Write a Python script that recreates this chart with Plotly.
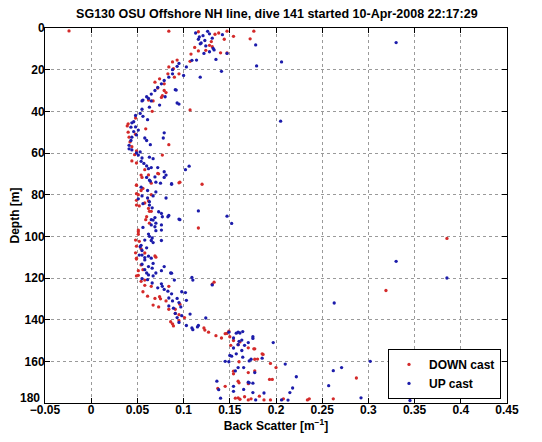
import plotly.graph_objects as go

# DOWN cast (red): back scatter [1/m] and depth [m]
down_x = [-0.024, 0.084, 0.116, 0.134, 0.138, 0.147, 0.176, 0.172, 0.154, 0.144, 0.130, 0.128, 0.131, 0.124,
          0.116, 0.140, 0.147, 0.112, 0.108, 0.107, 0.093, 0.088, 0.084, 0.089, 0.095, 0.083, 0.090, 0.074,
          0.069, 0.079, 0.072, 0.079, 0.081, 0.077, 0.076, 0.062, 0.067, 0.107, 0.066, 0.048, 0.040, 0.039,
          0.059, 0.040, 0.048, 0.041, 0.042, 0.084, 0.044, 0.049, 0.047, 0.077, 0.044, 0.049, 0.058, 0.054,
          0.062, 0.072, 0.073, 0.055, 0.096, 0.095, 0.120, 0.065, 0.049, 0.049, 0.056, 0.054, 0.049, 0.051,
          0.065, 0.049, 0.062, 0.058, 0.052, 0.049, 0.062, 0.063, 0.065, 0.060, 0.059, 0.063, 0.116, 0.051,
          0.051, 0.051, 0.048, 0.385, 0.052, 0.049, 0.054, 0.048, 0.058, 0.069, 0.070, 0.049, 0.049, 0.054,
          0.051, 0.056, 0.051, 0.049, 0.058, 0.054, 0.133, 0.058, 0.065, 0.084, 0.131, 0.319, 0.056, 0.061,
          0.075, 0.074, 0.069, 0.081, 0.096, 0.067, 0.073, 0.084, 0.091, 0.091, 0.095, 0.101, 0.095, 0.086,
          0.088, 0.089, 0.122, 0.123, 0.127, 0.149, 0.145, 0.147, 0.135, 0.141, 0.150, 0.154, 0.161, 0.159,
          0.151, 0.170, 0.177, 0.176, 0.185, 0.186, 0.177, 0.180, 0.160, 0.194, 0.200, 0.177, 0.154, 0.170,
          0.154, 0.193, 0.196, 0.287, 0.159, 0.160, 0.170, 0.145, 0.137, 0.182, 0.166, 0.159, 0.156, 0.173,
          0.161, 0.170, 0.187, 0.194, 0.208, 0.234, 0.236, 0.262]
down_depth = [1.4, 1.5, 1.8, 3.0, 2.4, 1.5, 1.5, 5.2, 4.0, 5.4, 6.5, 8.3, 9.0, 10.7,
              11.0, 11.9, 12.0, 9.3, 12.5, 16.0, 15.4, 16.3, 18.7, 19.5, 22.0, 22.0, 23.6, 24.4,
              26.0, 26.8, 28.8, 30.0, 31.0, 32.5, 33.3, 34.6, 35.0, 39.3, 40.0, 43.2, 46.0, 47.0,
              48.4, 50.0, 51.0, 52.4, 54.7, 56.0, 57.0, 59.0, 60.8, 61.0, 63.8, 64.8, 68.0, 70.6,
              70.5, 69.8, 70.0, 71.7, 74.0, 74.3, 75.0, 74.5, 75.5, 75.3, 77.0, 78.0, 79.5, 80.0,
              80.0, 82.7, 83.0, 84.0, 85.4, 85.0, 86.6, 88.0, 88.0, 90.6, 92.0, 93.7, 96.0, 97.0,
              97.8, 99.0, 101.8, 101.0, 102.4, 104.7, 106.0, 107.9, 108.0, 109.4, 110.0, 110.5, 110.9, 113.7,
              116.5, 116.0, 118.7, 119.0, 121.0, 121.6, 122.0, 123.5, 124.0, 124.0, 123.0, 126.0, 126.6, 128.7,
              130.0, 129.0, 129.8, 131.0, 132.6, 133.0, 133.9, 135.0, 135.0, 137.0, 137.6, 139.0, 140.5, 141.0,
              142.0, 143.0, 144.0, 145.0, 146.0, 145.5, 146.7, 146.6, 147.7, 148.8, 148.2, 150.0, 150.7, 152.0,
              152.3, 153.5, 154.0, 154.0, 156.4, 156.7, 159.0, 158.9, 160.2, 161.0, 163.0, 164.6, 164.7, 165.4,
              166.0, 168.7, 168.7, 168.0, 169.5, 170.3, 170.7, 172.0, 173.0, 176.7, 177.0, 177.5, 177.7, 178.0,
              178.2, 178.5, 178.5, 178.5, 178.0, 178.5, 178.0, 178.0]

# UP cast (blue)
up_x = [0.126, 0.113, 0.128, 0.142, 0.121, 0.117, 0.131, 0.116, 0.123, 0.330, 0.119, 0.118, 0.178, 0.124,
        0.132, 0.133, 0.128, 0.122, 0.147, 0.135, 0.114, 0.109, 0.206, 0.095, 0.093, 0.103, 0.179, 0.088,
        0.141, 0.088, 0.100, 0.084, 0.118, 0.079, 0.076, 0.072, 0.091, 0.092, 0.069, 0.065, 0.060, 0.080,
        0.062, 0.056, 0.055, 0.065, 0.093, 0.095, 0.074, 0.063, 0.055, 0.053, 0.048, 0.056, 0.061, 0.205,
        0.046, 0.044, 0.043, 0.048, 0.051, 0.046, 0.079, 0.049, 0.044, 0.078, 0.058, 0.043, 0.060, 0.064,
        0.041, 0.041, 0.044, 0.053, 0.049, 0.051, 0.063, 0.055, 0.067, 0.054, 0.057, 0.106, 0.060, 0.065,
        0.072, 0.062, 0.102, 0.079, 0.081, 0.069, 0.060, 0.079, 0.063, 0.064, 0.070, 0.075, 0.087, 0.087,
        0.054, 0.061, 0.070, 0.055, 0.067, 0.061, 0.081, 0.051, 0.063, 0.056, 0.063, 0.066, 0.116, 0.073,
        0.076, 0.147, 0.077, 0.084, 0.083, 0.069, 0.095, 0.065, 0.067, 0.096, 0.152, 0.070, 0.076, 0.065,
        0.069, 0.056, 0.076, 0.070, 0.062, 0.063, 0.066, 0.058, 0.065, 0.076, 0.067, 0.054, 0.053, 0.060,
        0.055, 0.055, 0.062, 0.052, 0.058, 0.058, 0.065, 0.330, 0.055, 0.062, 0.067, 0.066, 0.058, 0.079,
        0.076, 0.060, 0.070, 0.087, 0.086, 0.062, 0.067, 0.109, 0.385, 0.055, 0.061, 0.110, 0.090, 0.066,
        0.076, 0.131, 0.072, 0.077, 0.079, 0.083, 0.098, 0.102, 0.087, 0.084, 0.093, 0.103, 0.088, 0.095,
        0.263, 0.084, 0.097, 0.089, 0.091, 0.107, 0.098, 0.093, 0.124, 0.095, 0.103, 0.116, 0.115, 0.109,
        0.110, 0.164, 0.149, 0.159, 0.157, 0.161, 0.175, 0.154, 0.175, 0.163, 0.170, 0.160, 0.197, 0.159,
        0.166, 0.154, 0.163, 0.157, 0.150, 0.152, 0.164, 0.185, 0.173, 0.171, 0.145, 0.149, 0.302, 0.210,
        0.165, 0.159, 0.271, 0.156, 0.262, 0.177, 0.136, 0.222, 0.170, 0.171, 0.175, 0.257, 0.154, 0.218,
        0.165, 0.138, 0.154, 0.215, 0.187, 0.175, 0.140, 0.292, 0.206, 0.178, 0.213, 0.345]
up_depth = [1.6, 2.4, 2.8, 3.2, 3.7, 4.3, 4.9, 5.4, 6.0, 7.0, 7.2, 7.6, 8.1, 8.6,
            9.8, 10.5, 11.4, 12.2, 12.2, 15.1, 15.4, 15.5, 16.3, 17.0, 18.4, 18.7, 18.2, 20.0,
            20.8, 22.0, 22.8, 23.6, 23.6, 25.2, 26.8, 28.5, 29.6, 29.8, 30.0, 31.7, 33.0, 33.0,
            33.8, 34.6, 35.0, 35.0, 36.0, 36.5, 37.0, 38.0, 39.0, 41.0, 42.0, 42.4, 44.0, 44.7,
            45.0, 45.5, 47.6, 47.5, 49.0, 49.7, 50.3, 51.3, 52.4, 52.8, 52.8, 54.0, 54.0, 56.0,
            56.3, 58.0, 58.5, 59.5, 60.0, 61.0, 62.0, 62.4, 62.7, 64.0, 65.0, 66.3, 66.2, 67.0,
            67.0, 67.5, 68.0, 69.0, 70.6, 71.5, 71.7, 71.7, 73.0, 73.5, 74.0, 74.5, 74.7, 75.0,
            76.4, 78.0, 78.7, 80.6, 80.6, 81.6, 81.6, 82.0, 83.4, 84.3, 85.0, 86.3, 87.8, 88.2,
            89.0, 90.3, 90.6, 90.0, 90.6, 91.0, 91.7, 92.0, 92.2, 92.0, 93.8, 93.7, 94.5, 94.5,
            95.4, 95.7, 97.0, 97.3, 98.9, 100.0, 100.8, 101.8, 102.0, 102.0, 103.0, 104.3, 105.0, 105.5,
            106.8, 109.0, 109.5, 109.0, 110.2, 111.3, 110.5, 112.0, 113.4, 114.5, 113.0, 115.3, 116.0, 114.5,
            116.5, 117.6, 117.6, 117.7, 117.6, 118.5, 119.0, 119.7, 120.0, 120.3, 120.8, 121.0, 121.0, 122.4,
            122.8, 123.3, 124.7, 124.0, 125.5, 126.3, 126.6, 127.0, 127.6, 129.6, 129.8, 130.7, 131.0, 131.8,
            132.0, 133.4, 133.9, 134.5, 137.0, 137.3, 138.1, 139.0, 139.2, 141.3, 142.8, 142.8, 143.5, 144.0,
            144.8, 145.7, 146.0, 146.0, 146.5, 146.4, 148.2, 148.8, 149.0, 149.8, 151.0, 150.4, 151.0, 152.0,
            152.3, 153.6, 154.8, 156.4, 157.2, 157.5, 158.0, 158.5, 159.0, 159.8, 160.0, 160.2, 160.0, 161.3,
            163.0, 163.0, 163.0, 164.6, 164.5, 165.4, 169.5, 167.4, 170.0, 170.3, 170.5, 171.7, 172.0, 172.8,
            173.5, 173.6, 174.4, 175.0, 175.2, 175.0, 177.7, 177.5, 178.5, 178.5, 178.6, 178.8]

x_ticks = [-0.05, 0, 0.05, 0.1, 0.15, 0.2, 0.25, 0.3, 0.35, 0.4, 0.45]
x_tick_labels = ["\u22120.05", "0", "0.05", "0.1", "0.15", "0.2", "0.25", "0.3", "0.35", "0.4", "0.45"]
y_ticks = [0, 20, 40, 60, 80, 100, 120, 140, 160]
y_bottom = 180  # bottom limit; its label is drawn slightly raised, as in the reference

FONT = "Liberation Sans, Arial, Helvetica, sans-serif"
tick_font = dict(family=FONT, size=12, color="black", weight="bold")

fig = go.Figure()
fig.add_trace(go.Scatter(x=down_x, y=down_depth, mode="markers", name="DOWN cast",
                         marker=dict(color="#d42a2a", size=3.3, symbol="circle")))
fig.add_trace(go.Scatter(x=up_x, y=up_depth, mode="markers", name="UP cast",
                         marker=dict(color="#1c1cab", size=3.3, symbol="circle")))

axis_common = dict(showline=True, linecolor="black", linewidth=1, mirror="ticks",
                   ticks="inside", ticklen=5, tickcolor="black",
                   showgrid=True, gridcolor="#9a9a9a", griddash="dot", gridwidth=1,
                   zeroline=False, tickfont=tick_font)

fig.update_xaxes(range=[-0.05, 0.45], tickvals=x_ticks, ticktext=x_tick_labels,
                 ticklabelstandoff=-4,
                 title=dict(text="Back Scatter [m<sup>\u22121</sup>]", standoff=2,
                            font=dict(family=FONT, size=12, color="black", weight="bold")),
                 **axis_common)
fig.update_yaxes(range=[y_bottom, 0], tickvals=y_ticks,
                 ticklabelstandoff=-3,
                 title=dict(text="Depth [m]", standoff=4,
                            font=dict(family=FONT, size=12, color="black", weight="bold")),
                 **axis_common)

fig.add_annotation(text=str(y_bottom), x=0, xref="paper", xanchor="right", xshift=-3,
                   y=y_bottom, yref="y", yanchor="middle", yshift=5,
                   showarrow=False, font=tick_font)

# page body has an 8px margin, so the figure is sized/offset to put the axes at 45..507 x 28..403
fig.update_layout(
    width=534, height=434,
    margin=dict(l=37, r=35, t=20, b=39, autoexpand=False),
    paper_bgcolor="white", plot_bgcolor="white",
    title=dict(text="SG130 OSU Offshore NH line, dive 141 started 10-Apr-2008 22:17:29",
               x=(37 + 231) / 534, xref="paper", xanchor="center",
               y=1 - 6 / 434, yanchor="middle",
               font=dict(family=FONT, size=12.5, color="black", weight="bold")),
    legend=dict(x=0.987, y=0.011, xanchor="right", yanchor="bottom",
                bgcolor="white", bordercolor="black", borderwidth=1,
                font=dict(family=FONT, size=12, color="black", weight="bold"),
                itemsizing="trace", itemwidth=30, tracegroupgap=0),
    showlegend=True,
)

fig.write_html("out.html")
